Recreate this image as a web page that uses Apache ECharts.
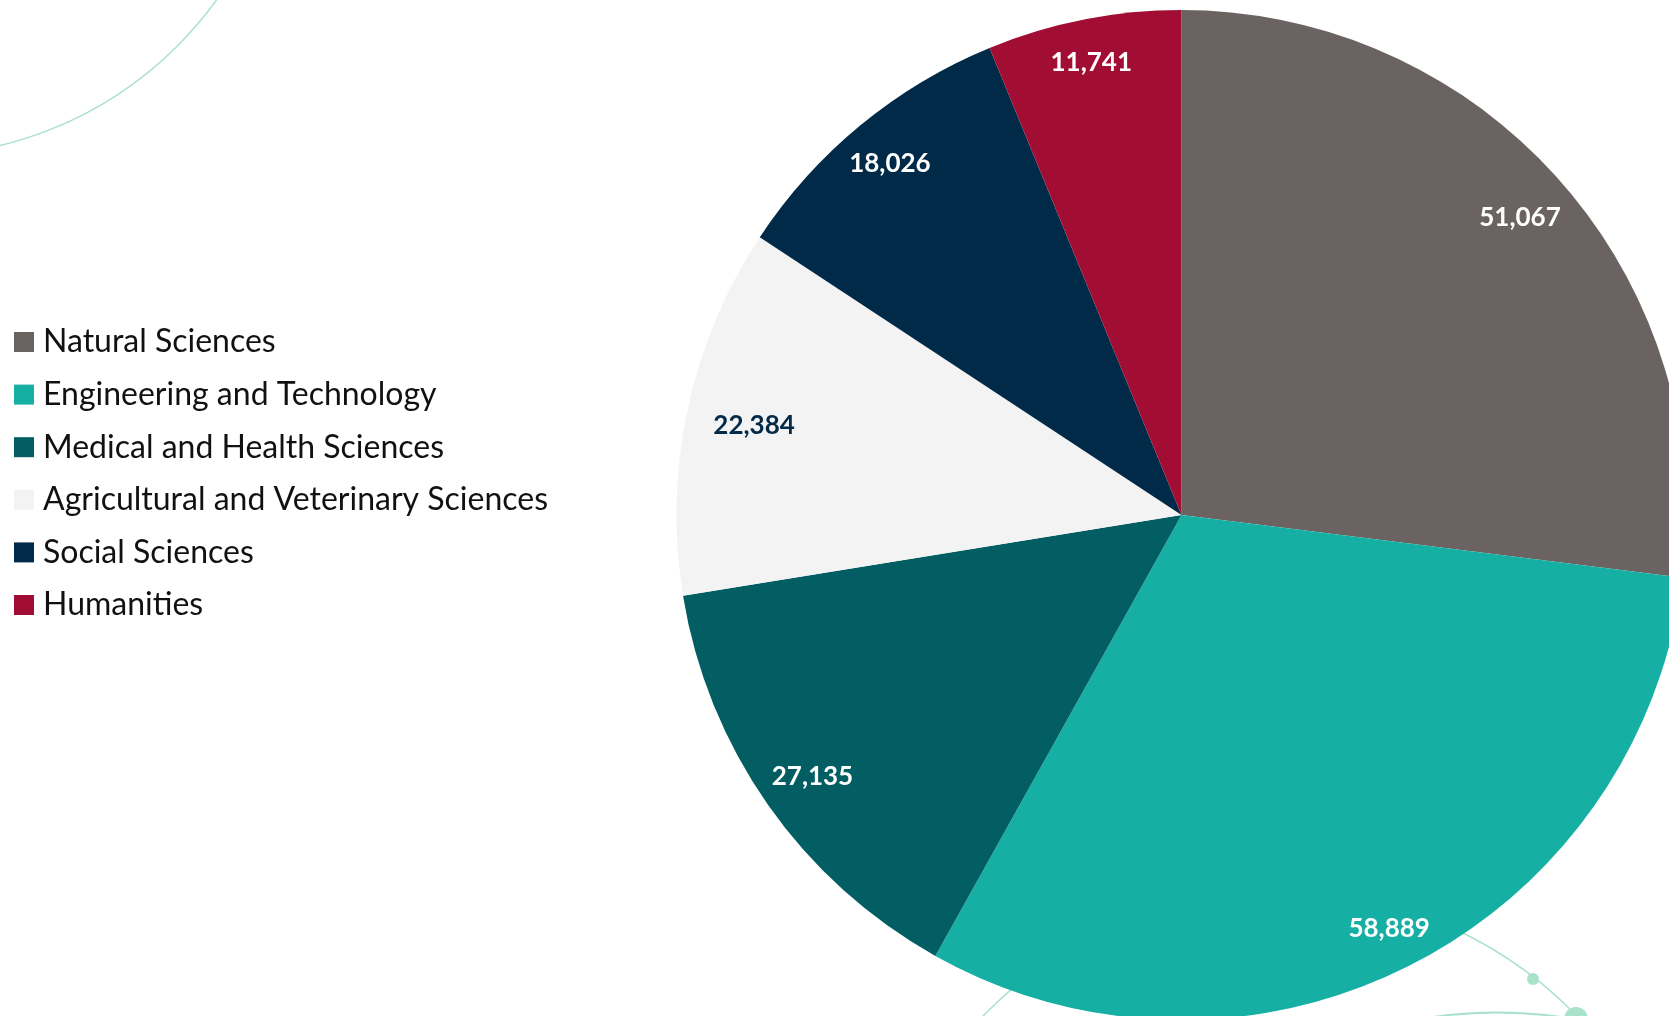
<!DOCTYPE html>
<html>
<head>
<meta charset="utf-8">
<title>Researchers by Field of Science</title>
<script src="https://cdn.jsdelivr.net/npm/echarts@6/dist/echarts.min.js"></script>
<style>
  html, body { margin: 0; padding: 0; background: #ffffff; }
  #chart { width: 1669px; height: 1016px; }
</style>
</head>
<body>
<div id="chart"></div>
<script>
// Fields of science and their counts
const categories = [
  'Natural Sciences',
  'Engineering and Technology',
  'Medical and Health Sciences',
  'Agricultural and Veterinary Sciences',
  'Social Sciences',
  'Humanities'
];
const values = [51067, 58889, 27135, 22384, 18026, 11741];
const colors = ['#6B6361', '#15AFA4', '#025E63', '#F3F3F3', '#002A48', '#A20D33'];
const labelColors = ['#FFFFFF', '#FFFFFF', '#FFFFFF', '#002A48', '#FFFFFF', '#FFFFFF'];
// small nudges so each value sits snugly inside its slice
const labelNudges = [[-3, 4], [2, 7], [4, 0], [18, 6], [-2, 0], [-2, -6]];

const FONT = 'Lato, "Open Sans", sans-serif';
const MINT = '#A9E2CB';
const CX = 1181.5, CY = 515, R = 505;

const fmt = v => v.toLocaleString('en-US');

const pieData = categories.map((name, i) => ({
  name,
  value: values[i],
  itemStyle: { color: colors[i] }
}));

const labelData = categories.map((name, i) => ({
  name,
  value: values[i],
  itemStyle: { color: 'rgba(0,0,0,0)' },
  label: { color: labelColors[i], offset: labelNudges[i] }
}));

const chart = echarts.init(document.getElementById('chart'), null, { renderer: 'canvas' });

chart.setOption({
  backgroundColor: '#ffffff',
  animation: false,
  // thin mint circles in the background
  graphic: {
    elements: [
      {
        type: 'circle', z: -10, silent: true,
        shape: { cx: -88, cy: -219, r: 375 },
        style: { fill: null, stroke: MINT, lineWidth: 1.5 }
      },
      {
        type: 'circle', z: -10, silent: true,
        shape: { cx: 1280, cy: 1304.5, r: 414 },
        style: { fill: null, stroke: MINT, lineWidth: 1.5 }
      },
      {
        type: 'circle', z: -10, silent: true,
        shape: { cx: 1497, cy: 1467.5, r: 455 },
        style: { fill: null, stroke: MINT, lineWidth: 2 }
      },
      {
        type: 'circle', z: -10, silent: true,
        shape: { cx: 1533, cy: 979, r: 6 },
        style: { fill: MINT, stroke: null }
      },
      {
        type: 'circle', z: -10, silent: true,
        shape: { cx: 1576, cy: 1019, r: 12 },
        style: { fill: MINT, stroke: null }
      }
    ]
  },
  legend: {
    orient: 'vertical',
    left: 14,
    top: 325,
    padding: 0,
    itemWidth: 20,
    itemHeight: 20,
    itemGap: 18.6,
    icon: 'rect',
    selectedMode: false,
    data: categories.map((name, i) => ({ name, itemStyle: { color: colors[i], opacity: 1 } })),
    textStyle: {
      fontFamily: FONT,
      fontSize: 32,
      lineHeight: 34,
      color: '#111111',
      padding: [0, 0, 0, 4]
    }
  },
  series: [
    {
      type: 'pie',
      name: 'Fields',
      center: [CX, CY],
      radius: [0, R],
      startAngle: 90,
      clockwise: true,
      silent: true,
      label: { show: false },
      labelLine: { show: false },
      itemStyle: { borderWidth: 0 },
      data: pieData
    },
    {
      // transparent outer ring that carries the value labels near the rim
      type: 'pie',
      name: 'Values',
      center: [CX, CY],
      radius: [R - 105, R],
      startAngle: 90,
      clockwise: true,
      silent: true,
      labelLine: { show: false },
      label: {
        show: true,
        position: 'inside',
        fontFamily: FONT,
        fontWeight: 'bold',
        fontSize: 26,
        formatter: p => fmt(p.value)
      },
      itemStyle: { borderWidth: 0 },
      data: labelData
    }
  ]
});
</script>
</body>
</html>
